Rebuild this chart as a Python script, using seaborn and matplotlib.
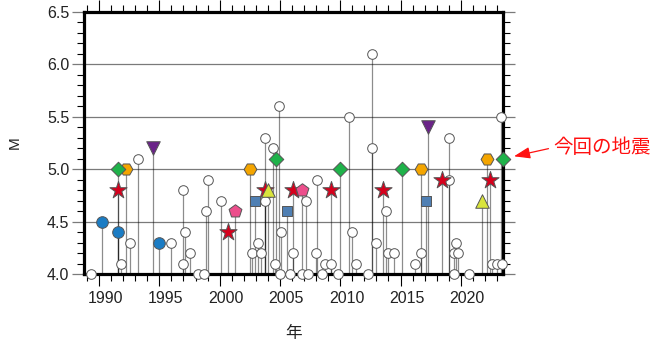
import numpy as np
import pandas as pd
import matplotlib
matplotlib.use("Agg")
import matplotlib.pyplot as plt
from matplotlib.ticker import MultipleLocator, FixedLocator
from matplotlib.transforms import ScaledTranslation
import seaborn as sns

# ---- event catalogue (decimal year, magnitude) by mechanism class ----
small_year = [1989.3, 1991.8, 1992.6, 1993.2, 1996.0, 1997.0, 1997.1, 1997.0, 1997.5,
              1998.2, 1998.7, 1999.0, 1998.9, 2000.1, 2002.7, 2003.2, 2003.4, 2003.8,
              2003.8, 2004.4, 2004.9, 2005.1, 2004.6, 2005.0, 2005.8, 2006.1, 2007.2,
              2006.8, 2007.3, 2008.1, 2008.0, 2008.5, 2008.7, 2009.2, 2009.8, 2010.7,
              2011.0, 2011.3, 2012.3, 2012.6, 2012.6, 2013.0, 2013.8, 2014.0, 2014.5,
              2016.2, 2016.7, 2019.0, 2019.0, 2019.6, 2019.4, 2019.8, 2019.4, 2020.7,
              2022.6, 2023.0, 2023.4, 2023.3]
small_mag = [4.0, 4.1, 4.3, 5.1, 4.3, 4.8, 4.4, 4.1, 4.2,
             4.0, 4.0, 4.9, 4.6, 4.7, 4.2, 4.3, 4.2, 4.7,
             5.3, 5.2, 5.6, 4.4, 4.1, 4.0, 4.0, 4.2, 4.7,
             4.0, 4.0, 4.9, 4.2, 4.0, 4.1, 4.1, 4.0, 5.5,
             4.4, 4.1, 4.0, 6.1, 5.2, 4.3, 4.6, 4.2, 4.2,
             4.1, 4.2, 5.3, 4.9, 4.3, 4.2, 4.2, 4.0, 4.0,
             4.1, 4.1, 4.1, 5.5]

blue_circle_year = [1990.25, 1991.58, 1994.98]
blue_circle_mag = [4.5, 4.4, 4.3]

diamond_year = [1991.58, 2004.68, 2009.99, 2015.13]
diamond_mag = [5.0, 5.1, 5.0, 5.0]

hexagon_year = [1992.24, 2002.52, 2016.71, 2022.18]
hexagon_mag = [5.0, 5.0, 5.0, 5.1]

star_year = [1991.58, 2000.70, 2003.77, 2006.09, 2009.24, 2013.55, 2018.45, 2022.43]
star_mag = [4.8, 4.4, 4.8, 4.8, 4.8, 4.8, 4.9, 4.9]

pentagon_year = [2001.28, 2006.84]
pentagon_mag = [4.6, 4.8]

square_year = [2002.94, 2005.59, 2017.12]
square_mag = [4.7, 4.6, 4.7]

down_tri_year = [1994.48, 2017.29]
down_tri_mag = [5.2, 5.4]

up_tri_year = [2004.02, 2021.77]
up_tri_mag = [4.8, 4.7]

latest_year = [2023.51]
latest_mag = [5.1]

year_ticks = [1990, 1995, 2000, 2005, 2010, 2015, 2020]
year_labels = [str(y) for y in year_ticks]
mag_ticks = [4.0, 4.5, 5.0, 5.5, 6.0, 6.5]
mag_labels = [f"{m:.1f}" for m in mag_ticks]

groups = [
    ("small", small_year, small_mag),
    ("blue_circle", blue_circle_year, blue_circle_mag),
    ("star", star_year, star_mag),
    ("pentagon", pentagon_year, pentagon_mag),
    ("square", square_year, square_mag),
    ("down_tri", down_tri_year, down_tri_mag),
    ("up_tri", up_tri_year, up_tri_mag),
    ("hexagon", hexagon_year, hexagon_mag),
    ("diamond", diamond_year, diamond_mag),
    ("latest", latest_year, latest_mag),
]
df = pd.concat(
    [pd.DataFrame({"year": y, "mag": m, "kind": k}) for k, y, m in groups],
    ignore_index=True,
)

# marker, face colour, size (pt^2)
styles = {
    "small":       ("o", "white",   48),
    "blue_circle": ("o", "#1b7cc4", 70),
    "star":        ("*", "#d6001c", 170),
    "pentagon":    ("p", "#ec4f8c", 95),
    "square":      ("s", "#4f7fb3", 55),
    "down_tri":    ("v", "#6a2388", 95),
    "up_tri":      ("^", "#d9e43c", 95),
    "hexagon":     ("H", "#f4a500", 85),
    "diamond":     ("D", "#1fb24a", 55),
    "latest":      ("D", "#1fb24a", 55),
}

sns.set_theme(style="white")
plt.rcParams["font.family"] = ["Liberation Sans", "Noto Sans CJK JP", "DejaVu Sans"]

fig = plt.figure(figsize=(6.51, 3.45), dpi=100)
ax = fig.add_axes([84 / 651, 1 - 274 / 345, 419 / 651, 262 / 345])

# stems from M4.0 up to each event
ax.vlines(df["year"], 4.0, df["mag"], colors="black", alpha=0.45,
          linewidth=0.9, zorder=2)

for i, (kind, _, _) in enumerate(groups):
    marker, face, size = styles[kind]
    sub = df[df["kind"] == kind]
    sns.scatterplot(data=sub, x="year", y="mag", ax=ax, marker=marker,
                    color=face, s=size, edgecolor="#555555", linewidth=0.7,
                    zorder=4 + i, clip_on=False, legend=False)

ax.set_xlim(1988.75, 2023.5)
ax.set_ylim(4.0, 6.5)

# horizontal reference lines
ax.grid(axis="y", which="major", color="#7a7a7a", linewidth=0.9)
ax.grid(axis="x", visible=False)
ax.set_axisbelow(True)

for side in ["left", "right", "top", "bottom"]:
    ax.spines[side].set_visible(True)
    ax.spines[side].set_color("black")
    ax.spines[side].set_linewidth(2.3)
    ax.spines[side].set_zorder(3)

ax.xaxis.set_major_locator(FixedLocator(year_ticks))
ax.xaxis.set_minor_locator(MultipleLocator(1))
ax.set_xticks(year_ticks, year_labels)
ax.yaxis.set_major_locator(FixedLocator(mag_ticks))
ax.yaxis.set_minor_locator(MultipleLocator(0.1))
ax.set_yticks(mag_ticks, mag_labels)

ax.tick_params(axis="x", which="major", direction="out", top=True, bottom=True,
               length=8.5, width=0.8, color="black", labelsize=11.5, pad=4,
               labelcolor="#222222")
ax.tick_params(axis="x", which="minor", direction="out", top=True, bottom=True,
               length=5, width=0.8, color="black")
ax.tick_params(axis="y", which="major", direction="out", left=True, right=True,
               length=8.5, width=0.9, color="#7a7a7a", labelsize=11.5, pad=2,
               labelcolor="#222222")
ax.tick_params(axis="y", which="minor", direction="out", left=True, right=True,
               length=5, width=0.8, color="black")

# centre each year label within its year
shift = ScaledTranslation(6.5 / 100, 0, fig.dpi_scale_trans)
for lab in ax.get_xticklabels():
    lab.set_transform(lab.get_transform() + shift)

ax.set_xlabel("年", fontsize=12, color="#222222")
ax.xaxis.set_label_coords(0.5, -0.2)
ax.set_ylabel("M", fontsize=11, color="#222222")
ax.yaxis.set_label_coords(-0.148, 0.5)

ax.annotate("今回の地震", xy=(latest_year[0], latest_mag[0]), xycoords="data",
            xytext=(36, 8), textcoords="offset points", ha="left", va="center",
            fontsize=14, color="#ff1010",
            arrowprops=dict(arrowstyle="-|>,head_length=0.7,head_width=0.25",
                            color="#ff1010", lw=0.9, shrinkA=1, shrinkB=8,
                            relpos=(0, 0.5)),
            annotation_clip=False)

fig.savefig("out.png", dpi=100)
